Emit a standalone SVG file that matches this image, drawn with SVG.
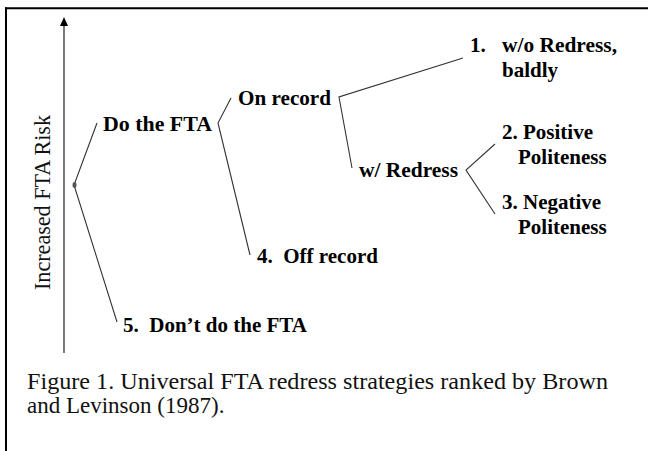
<svg xmlns="http://www.w3.org/2000/svg" width="648" height="451" viewBox="0 0 648 451">
<style>
.lbl{font-family:"Liberation Serif","Times New Roman",serif;font-weight:bold;font-size:21px;fill:#000}
.reg{font-family:"Liberation Serif","Times New Roman",serif;font-size:23px;fill:#111}
.ln{stroke:#333;stroke-width:1.1;fill:none}
</style>
<rect width="648" height="451" fill="#fff"/>
<g id="frame">
<line x1="5" y1="8.3" x2="648" y2="8.3" stroke="#000" stroke-width="2"/>
<line x1="6" y1="7.3" x2="6" y2="451" stroke="#000" stroke-width="2"/>
</g>
<g id="axis">
<line x1="64" y1="353" x2="64" y2="26" stroke="#222" stroke-width="1.2"/>
<path d="M60,26 L64,17 L68,26 Z" fill="#000"/>
<text class="reg" transform="translate(50,290) rotate(-90)" font-size="21" textLength="175" lengthAdjust="spacingAndGlyphs">Increased FTA Risk</text>
</g>
<g id="connectors">
<polyline class="ln" points="97,123 74,185 117,322"/>
<polyline class="ln" points="231,98 218,123 250,255"/>
<polyline class="ln" points="463,58 339,97 352,168"/>
<polyline class="ln" points="495,144 466,170 495,214"/>
<ellipse cx="74.5" cy="185" rx="2" ry="3" fill="#555"/>
</g>
<g id="n-do"><text class="lbl" x="103" y="131" textLength="109" lengthAdjust="spacingAndGlyphs">Do the FTA</text></g>
<g id="n-dont"><text class="lbl" x="123" y="332" xml:space="preserve">5.  Don’t do the FTA</text></g>
<g id="n-on"><text class="lbl" x="238" y="105" textLength="93" lengthAdjust="spacingAndGlyphs">On record</text></g>
<g id="n-off"><text class="lbl" x="257" y="263" xml:space="preserve">4.  Off record</text></g>
<g id="n-wr"><text class="lbl" x="359" y="177" textLength="99" lengthAdjust="spacingAndGlyphs">w/ Redress</text></g>
<g id="n-1"><text class="lbl" x="470" y="52">1.</text><text class="lbl" x="502" y="52" textLength="115" lengthAdjust="spacingAndGlyphs">w/o Redress,</text><text class="lbl" x="502" y="77">baldly</text></g>
<g id="n-2"><text class="lbl" x="502" y="139">2. Positive</text><text class="lbl" x="518" y="164">Politeness</text></g>
<g id="n-3"><text class="lbl" x="502" y="209">3. Negative</text><text class="lbl" x="518" y="234">Politeness</text></g>
<g id="caption">
<text class="reg" x="27" y="389" textLength="581" lengthAdjust="spacingAndGlyphs">Figure 1. Universal FTA redress strategies ranked by Brown</text>
<text class="reg" x="27" y="413">and Levinson (1987).</text>
</g>
</svg>
